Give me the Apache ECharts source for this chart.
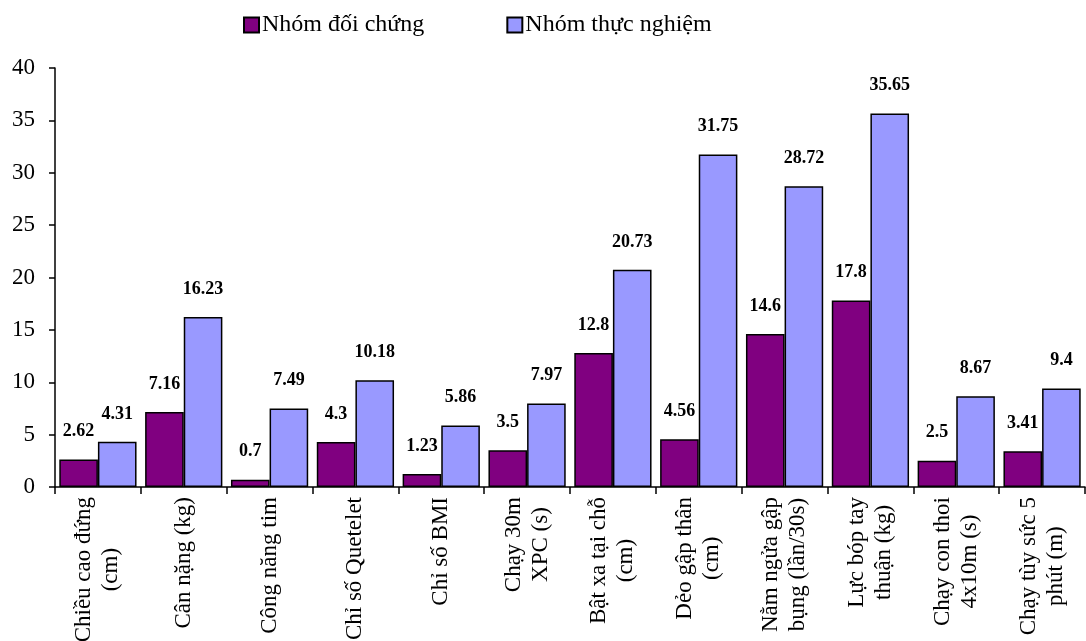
<!DOCTYPE html>
<html>
<head>
<meta charset="utf-8">
<script src="https://cdn.jsdelivr.net/npm/echarts@6/dist/echarts.min.js"></script>
<style>
  html, body { margin: 0; padding: 0; background: #fff; }
  #chart { width: 1086px; height: 641px; }
</style>
</head>
<body>
<div id="chart"></div>
<script>
// Test categories (two-line labels split by \n)
const categories = [
  'Chiều cao đứng\n(cm)',
  'Cân nặng (kg)',
  'Công năng tim',
  'Chỉ số Quetelet',
  'Chỉ số BMI',
  'Chạy 30m\nXPC (s)',
  'Bật xa tại chỗ\n(cm)',
  'Dẻo gập thân\n(cm)',
  'Nằm ngửa gập\nbụng (lần/30s)',
  'Lực bóp tay\nthuận (kg)',
  'Chạy con thoi\n4x10m (s)',
  'Chạy tùy sức 5\nphút (m)'
];
const controlGroup = [2.62, 7.16, 0.7, 4.3, 1.23, 3.5, 12.8, 4.56, 14.6, 17.8, 2.5, 3.41];
const experimentalGroup = [4.31, 16.23, 7.49, 10.18, 5.86, 7.97, 20.73, 31.75, 28.72, 35.65, 8.67, 9.4];
const seriesNames = ['Nhóm đối chứng', 'Nhóm thực nghiệm'];
const yTicks = { min: 0, max: 40, interval: 5 };

const FONT = '"Liberation Serif", "DejaVu Serif", serif';
const chart = echarts.init(document.getElementById('chart'));

// Bold value labels floating above each bar
const labelStyle = {
  show: true,
  position: 'top',
  distance: 19,
  fontFamily: FONT,
  fontSize: 18,
  fontWeight: 'bold',
  color: '#000'
};

chart.setOption({
  animation: false,
  backgroundColor: '#fff',
  legend: {
    top: 8,
    left: 238,
    itemWidth: 15,
    itemHeight: 15,
    itemGap: 82,
    icon: 'rect',
    textStyle: { fontFamily: FONT, fontSize: 24, color: '#000', padding: [0, 0, 0, -2] },
    data: seriesNames
  },
  grid: {
    left: 55, right: 1, top: 68, bottom: 154,
    containLabel: false,
    outerBoundsMode: 'none'
  },
  xAxis: {
    type: 'category',
    data: categories,
    axisLine: { lineStyle: { color: '#000', width: 1.5 } },
    axisTick: { show: true, length: 7, lineStyle: { color: '#000', width: 1.5 } },
    axisLabel: {
      interval: 0,
      rotate: 90,
      margin: 10,
      fontFamily: FONT,
      fontSize: 23,
      color: '#000',
      lineHeight: 27,
      // each line centred within the rotated label block
      formatter: v => v.split('\n').map(s => '{c|' + s + '}').join('\n'),
      rich: { c: { align: 'center', fontFamily: FONT, fontSize: 23, lineHeight: 27 } }
    }
  },
  yAxis: {
    type: 'value',
    min: yTicks.min,
    max: yTicks.max,
    interval: yTicks.interval,
    splitLine: { show: false },
    axisLine: { show: true, lineStyle: { color: '#000', width: 1.5 } },
    axisTick: { show: true, length: 6, lineStyle: { color: '#000', width: 1.5 } },
    axisLabel: { margin: 20, fontFamily: FONT, fontSize: 23, color: '#000' }
  },
  series: [
    {
      name: seriesNames[0],
      type: 'bar',
      data: controlGroup,
      barGap: '0%',
      barCategoryGap: '10%',
      itemStyle: { color: '#800080', borderColor: '#000', borderWidth: 1.5 },
      label: labelStyle
    },
    {
      name: seriesNames[1],
      type: 'bar',
      data: experimentalGroup,
      itemStyle: { color: '#9999FF', borderColor: '#000', borderWidth: 1.5 },
      label: labelStyle
    }
  ]
});
</script>
</body>
</html>
